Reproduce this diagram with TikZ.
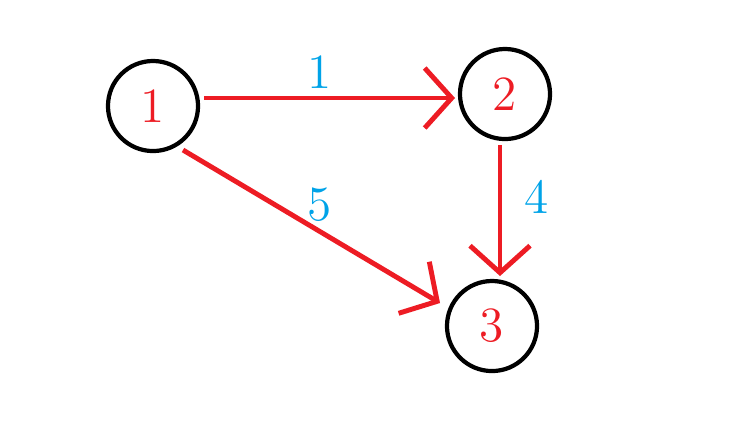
\documentclass[tikz,border=0pt]{standalone}
\usetikzlibrary{arrows.meta}
\definecolor{arcred}{rgb}{0.93,0.11,0.14}
\definecolor{wblue}{rgb}{0.0,0.64,0.91}
\begin{document}
\begin{tikzpicture}[x=0.01cm,y=-0.01cm,
  vertex/.style={circle, draw=black, line width=1.2pt, minimum size=0.9cm, inner sep=0pt,
    text=arcred, font=\fontsize{14}{16}\selectfont},
  arc/.style={draw=arcred, line width=1.4pt, -{Straight Barb[length=0.27cm,width=0.6cm,line width=1.4pt]}},
  weight/.style={text=wblue, font=\fontsize{14}{16}\selectfont}]
  \useasboundingbox (0,0) rectangle (731,441);
  \node[vertex] (v1) at (153,106) {1};
  \node[vertex] (v2) at (505,94) {2};
  \node[vertex] (v3) at (492,326) {3};

  \draw[arc] (v1.east |- 0,98) ++(4,0) coordinate (s12) -- (455,98) coordinate (e12);
  \draw[arc] (500,145) coordinate (s23) -- (500,276) coordinate (e23);
  \draw[arc] (183,150) coordinate (s13) -- (440,303) coordinate (e13);

  \node[weight] (w12) at (320,72) {1};
  \node[weight] (w23) at (537,197) {4};
  \node[weight] (w13) at (320,205) {5};
\end{tikzpicture}
\end{document}
